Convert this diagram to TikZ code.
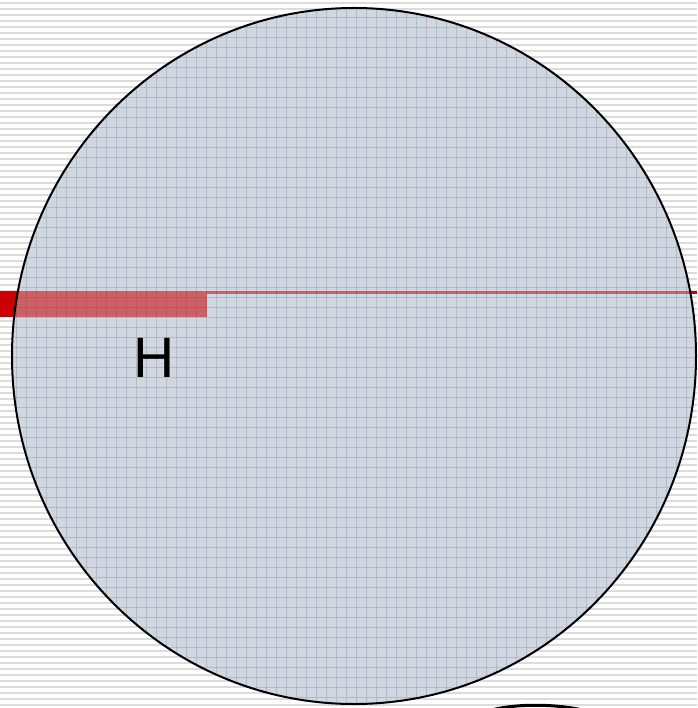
\documentclass[tikz,border=0pt]{standalone}
\usepackage{fontspec}
\setmainfont{Liberation Sans}
\definecolor{stripe}{HTML}{DCDCDC}
\definecolor{disc}{HTML}{D0D7E0}
\definecolor{gridc}{HTML}{B0BBC8}
\definecolor{barred}{HTML}{CC0000}
\tikzset{
  stripeline/.style={stripe, line width=1.6pt},
  gridline/.style={gridc, line width=0.7pt},
  rim/.style={black, line width=2pt},
  label/.style={font=\fontsize{57}{60}\selectfont, inner sep=0pt}
}
\begin{document}
\begin{tikzpicture}[x=1pt,y=-1pt]
\useasboundingbox (0,0) rectangle (697,708);
\fill[white] (0,0) rectangle (697,708);
% background stripes
\foreach \y in {3,9,...,708} \draw[stripeline] (0,\y) -- (697,\y);
% red marks (solid, visible outside disc)
\fill[barred] (0,291) rectangle (207,317);
\fill[barred] (0,291) rectangle (697,293.5);
% disc
\fill[disc] (354,356) ellipse [x radius=342, y radius=348];
\begin{scope}
  \clip (354,356) ellipse [x radius=342, y radius=348];
  \foreach \x in {6,16,...,700} \draw[gridline] (\x,0) -- (\x,708);
  \foreach \y in {7,17,...,708} \draw[gridline] (0,\y) -- (697,\y);
  \fill[barred, opacity=0.55] (0,291) rectangle (207,317);
  \fill[barred, opacity=0.55] (207,291) rectangle (697,293.5);
\end{scope}
\draw[rim] (354,356) ellipse [x radius=342, y radius=348];
% partial shape at bottom
\draw[black, line width=3pt] (485,712) .. controls (510,703) and (560,703) .. (590,712);
\node[label] (h) at (154,358) {H};
\end{tikzpicture}
\end{document}
